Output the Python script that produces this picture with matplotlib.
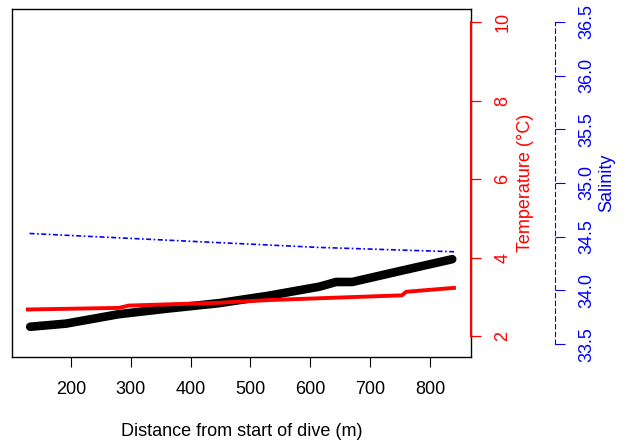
import matplotlib
matplotlib.use("Agg")
import matplotlib.pyplot as plt

plt.rcParams["font.family"] = ["Liberation Sans", "DejaVu Sans"]
plt.rcParams["font.size"] = 13

# black series (drawn on the temperature scale, no axis of its own)
black_dist = [132, 192, 280, 360, 447, 530, 615, 643, 670, 750, 837]
black_vals = [2.24, 2.32, 2.56, 2.70, 2.84, 3.03, 3.26, 3.38, 3.38, 3.66, 3.96]

# temperature (degC)
temp_dist = [128, 280, 297, 447, 531, 753, 760, 840]
temp_vals = [2.68, 2.72, 2.78, 2.85, 2.92, 3.04, 3.13, 3.23]

# salinity
sal_dist = [131, 315, 615, 840]
sal_vals = [34.53, 34.48, 34.40, 34.36]

temp_ticks = [2, 4, 6, 8, 10]
sal_ticks = [33.5, 34.0, 34.5, 35.0, 35.5, 36.0, 36.5]
x_ticks = [200, 300, 400, 500, 600, 700, 800]

temp_lim = (1.47, 10.33)
sal_lim = (33.38, 36.62)
x_lim = (101.6, 868.4)

fig = plt.figure(figsize=(6.29, 4.46), dpi=100)
ax = fig.add_axes([12 / 629, 89 / 446, 459 / 629, 348 / 446])

ax.plot(black_dist, black_vals, color="black", lw=6.2, solid_capstyle="round",
        solid_joinstyle="round", zorder=3)
ax.set_xlim(*x_lim)
ax.set_ylim(*temp_lim)
ax.set_yticks([])
ax.set_xticks(x_ticks)
ax.tick_params(axis="x", length=7, width=0.8, pad=10, labelsize=13)
ax.set_xlabel("Distance from start of dive (m)", fontsize=13, labelpad=18)
for s in ax.spines.values():
    s.set_linewidth(1)

# temperature axis
axt = ax.twinx()
axt.plot(temp_dist, temp_vals, color="red", lw=2.8, zorder=4)
axt.set_ylim(*temp_lim)
axt.set_yticks(temp_ticks)
axt.spines["right"].set_color("red")
axt.spines["right"].set_linewidth(1.5)
axt.spines["right"].set_bounds(2, 10)
for side in ["top", "left", "bottom"]:
    axt.spines[side].set_visible(False)
axt.tick_params(axis="y", colors="red", length=7, width=0.9, pad=10, labelsize=13)
for lab in axt.get_yticklabels():
    lab.set_rotation(90)
    lab.set_va("center")
axt.set_ylabel("Temperature (°C)", color="red", fontsize=13, labelpad=4)

# salinity axis
axs = ax.twinx()
axs.plot(sal_dist, sal_vals, color="blue", lw=1.2, linestyle=(0, (3, 1.5, 1, 1.5)))
axs.set_ylim(*sal_lim)
axs.set_yticks(sal_ticks)
axs.set_yticklabels([f"{v:.1f}" for v in sal_ticks])
axs.spines["right"].set_position(("axes", 1.183))
axs.spines["right"].set_color("blue")
axs.spines["right"].set_linestyle((0, (4, 3)))
axs.spines["right"].set_bounds(33.5, 36.5)
for side in ["top", "left", "bottom"]:
    axs.spines[side].set_visible(False)
axs.tick_params(axis="y", colors="blue", length=7, width=0.8, pad=10, labelsize=13)
for lab in axs.get_yticklabels():
    lab.set_rotation(90)
    lab.set_va("center")
axs.set_ylabel("Salinity", color="blue", fontsize=13, labelpad=2)

fig.savefig("out.png", dpi=100)
